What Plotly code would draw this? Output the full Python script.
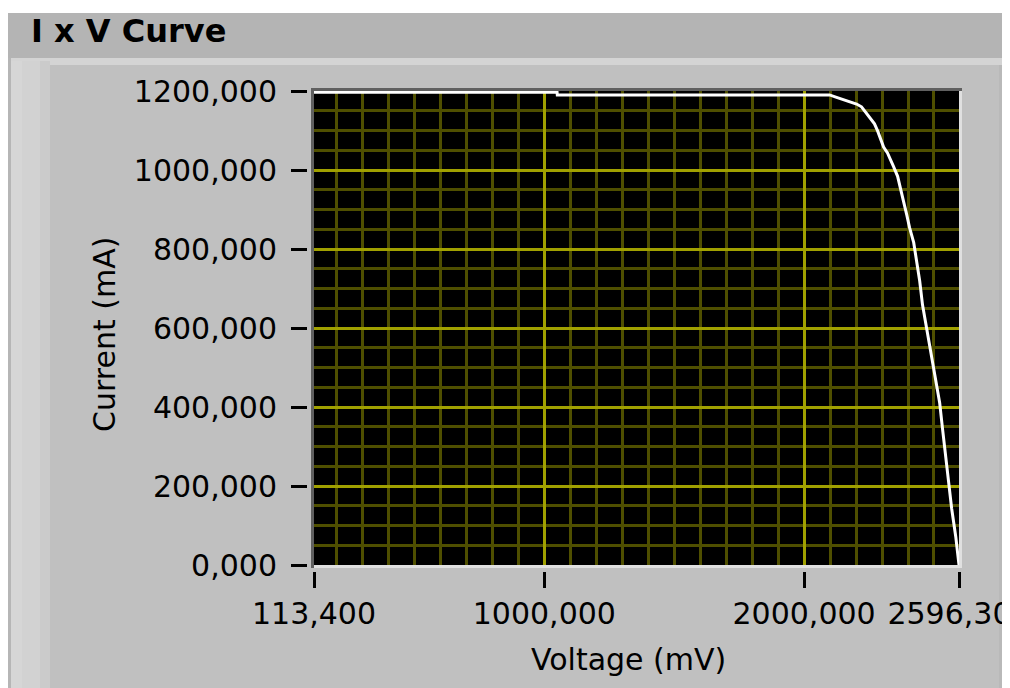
import plotly.graph_objects as go

# I x V curve
voltage_mv = [113.4, 1049, 1050, 2098, 2125, 2171, 2202, 2221, 2233, 2244, 2256,
              2271, 2283, 2294, 2306, 2321, 2333, 2344, 2360, 2371, 2383, 2395,
              2406, 2422, 2433, 2445, 2456, 2472, 2483, 2495, 2506, 2522, 2533,
              2545, 2557, 2568, 2584, 2595, 2596.3]
current_ma = [1197, 1197, 1190, 1190, 1184, 1175, 1167, 1160, 1150, 1142, 1132,
              1117, 1099, 1078, 1058, 1043, 1027, 1009, 984, 956, 920, 887,
              854, 816, 772, 719, 658, 599, 553, 512, 467, 410, 344,
              275, 209, 143, 71, 15, 0]

x_tick_vals = [113.4, 1000, 2000, 2596.3]
x_tick_text = ['113,400', '1000,000', '2000,000', '2596,300']
y_tick_vals = [0, 200, 400, 600, 800, 1000, 1200]
y_tick_text = ['0,000', '200,000', '400,000', '600,000', '800,000', '1000,000', '1200,000']

# minor grid: every 100 mV and every 50 mA, skipping the major lines
x_minor = [v for v in range(200, 2600, 100) if v % 1000]
y_minor = [v for v in range(50, 1200, 50) if v % 200]

W, H = 1010, 688
OFF = 8  # the page body keeps an 8px margin, so work in screen pixels and shift
PL, PR, PT, PB = 314, 959, 91, 565  # plot area in screen pixels
PANEL = '#c0c0c0'
BRIGHT = '#a0a000'
DARK = '#4f4f00'
FONT = 'DejaVu Sans'


def px(x):
    return (x - PL) / (PR - PL)


def py(y):
    return (PB - y) / (PB - PT)


def box(x0, y0, x1, y1, color, layer='below'):
    return dict(type='rect', xref='paper', yref='paper',
                x0=px(x0), x1=px(x1), y0=py(y1), y1=py(y0),
                fillcolor=color, line_width=0, layer=layer)


shapes = [
    box(OFF, OFF, W + OFF, 13, 'white'),
    box(1009, OFF, W + OFF, H + OFF, 'white'),
    box(8, 13, 1009, 58, '#b4b4b4'),
    box(8, 58, 1009, 65, '#d4d4d4'),
    box(8, 58, 11, H + OFF, '#b6b6b6'),
    box(11, 61, 22, H + OFF, '#d6d6d6'),
    box(22, 61, 40, H + OFF, '#d2d2d2'),
    box(40, 61, 50, H + OFF, '#cbcbcb'),
    box(999, 65, 1004, H + OFF, '#b9b9b9'),
    box(1004, 65, 1009, H + OFF, '#b0b0b0'),
    box(1009, 58, 1010, 62, 'black'),
    # sunken frame round the plot area
    box(311, 88, PR + 3, PT, '#606060', 'above'),
    box(311, 88, PL, PB + 3, '#606060', 'above'),
    box(PL, PB, PR + 3, PB + 3, '#e0e0e0', 'above'),
    box(PR, PT, PR + 3, PB + 3, '#e0e0e0', 'above'),
]

fig = go.Figure(go.Scatter(
    x=voltage_mv, y=current_ma, mode='lines',
    line=dict(color='white', width=3), hoverinfo='skip',
))

fig.update_layout(
    width=W, height=H,
    margin=dict(l=PL - OFF, r=W - (PR - OFF), t=PT - OFF, b=H - (PB - OFF), pad=0),
    paper_bgcolor=PANEL, plot_bgcolor='black',
    showlegend=False,
    font=dict(family=FONT, size=30, color='black'),
    shapes=shapes,
    annotations=[
        dict(text='<b>I x V Curve</b>', xref='paper', yref='paper',
             x=px(29), y=py(31), xanchor='left', yanchor='middle',
             showarrow=False, font=dict(family=FONT, size=32, color='black')),
        dict(text='Current (mA)', xref='paper', yref='paper',
             x=px(104), y=py(334), xanchor='center', yanchor='middle',
             textangle=-90, showarrow=False),
        dict(text='Voltage (mV)', xref='paper', yref='paper',
             x=px(628), y=py(659), xanchor='center', yanchor='middle',
             showarrow=False),
    ],
)

fig.update_xaxes(
    range=[113.4, 2596.3], tickvals=x_tick_vals, ticktext=x_tick_text,
    ticks='outside', ticklen=16, tickwidth=3, tickcolor='black',
    showline=True, linecolor=PANEL, linewidth=7,
    ticklabeloverflow='allow', automargin=False,
    showgrid=True, gridcolor=BRIGHT, gridwidth=3, zeroline=False,
    minor=dict(tickvals=x_minor, showgrid=True, gridcolor=DARK, gridwidth=3, ticks=''),
    fixedrange=True,
)
fig.update_yaxes(
    range=[0, 1200], tickvals=y_tick_vals, ticktext=y_tick_text,
    ticks='outside', ticklen=16, tickwidth=3, tickcolor='black',
    showline=True, linecolor=PANEL, linewidth=7, ticklabelstandoff=8,
    automargin=False,
    showgrid=True, gridcolor=BRIGHT, gridwidth=3, zeroline=False,
    minor=dict(tickvals=y_minor, showgrid=True, gridcolor=DARK, gridwidth=3, ticks=''),
    fixedrange=True,
)

fig.write_html('out.html', config={'displayModeBar': False})
